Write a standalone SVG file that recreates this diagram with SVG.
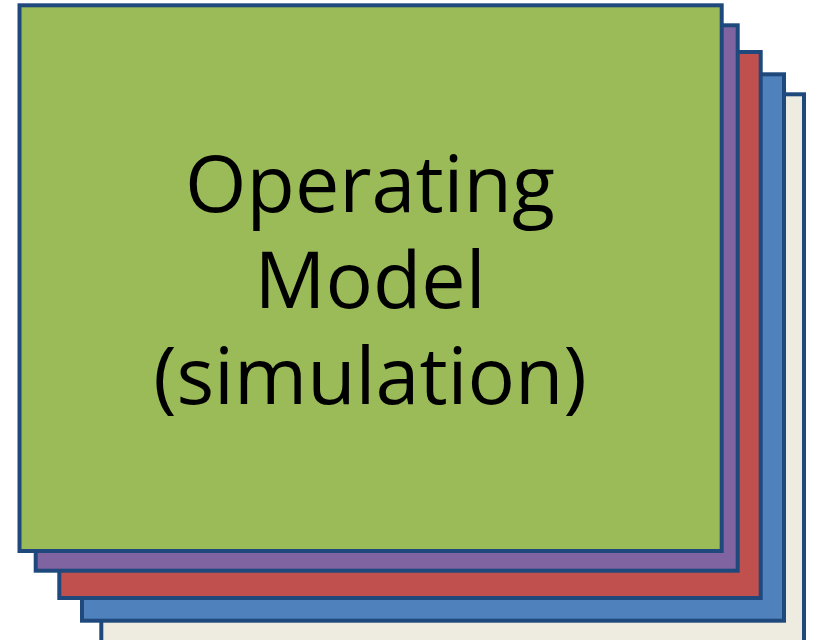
<svg xmlns="http://www.w3.org/2000/svg" width="817" height="640" viewBox="0 0 817 640">
<style>
.card{stroke:#1F497D;stroke-width:4}
.lbl{font-family:"Open Sans","Noto Sans",sans-serif;font-size:79px;fill:#000;text-anchor:middle}
</style>
<rect width="817" height="640" fill="#fff"/>
<g id="card5"><rect class="card" x="101.3" y="94.3" width="702.7" height="548" fill="#EEECE1"/></g>
<g id="card4"><rect class="card" x="82" y="74.3" width="702" height="546.4" fill="#4F81BD"/></g>
<g id="card3"><rect class="card" x="59.3" y="52" width="701.4" height="546" fill="#C0504D"/></g>
<g id="card2"><rect class="card" x="35.7" y="25.3" width="702" height="545.4" fill="#8064A2"/></g>
<g id="card1"><rect class="card" x="19.5" y="5.3" width="702.2" height="545.7" fill="#9BBB59"/>
<text class="lbl" x="370" y="211.7">Operating</text>
<text class="lbl" x="370" y="308.3">Model</text>
<text class="lbl" x="370" y="404">(simulation)</text>
</g>
<g id="connectors"/>
</svg>
